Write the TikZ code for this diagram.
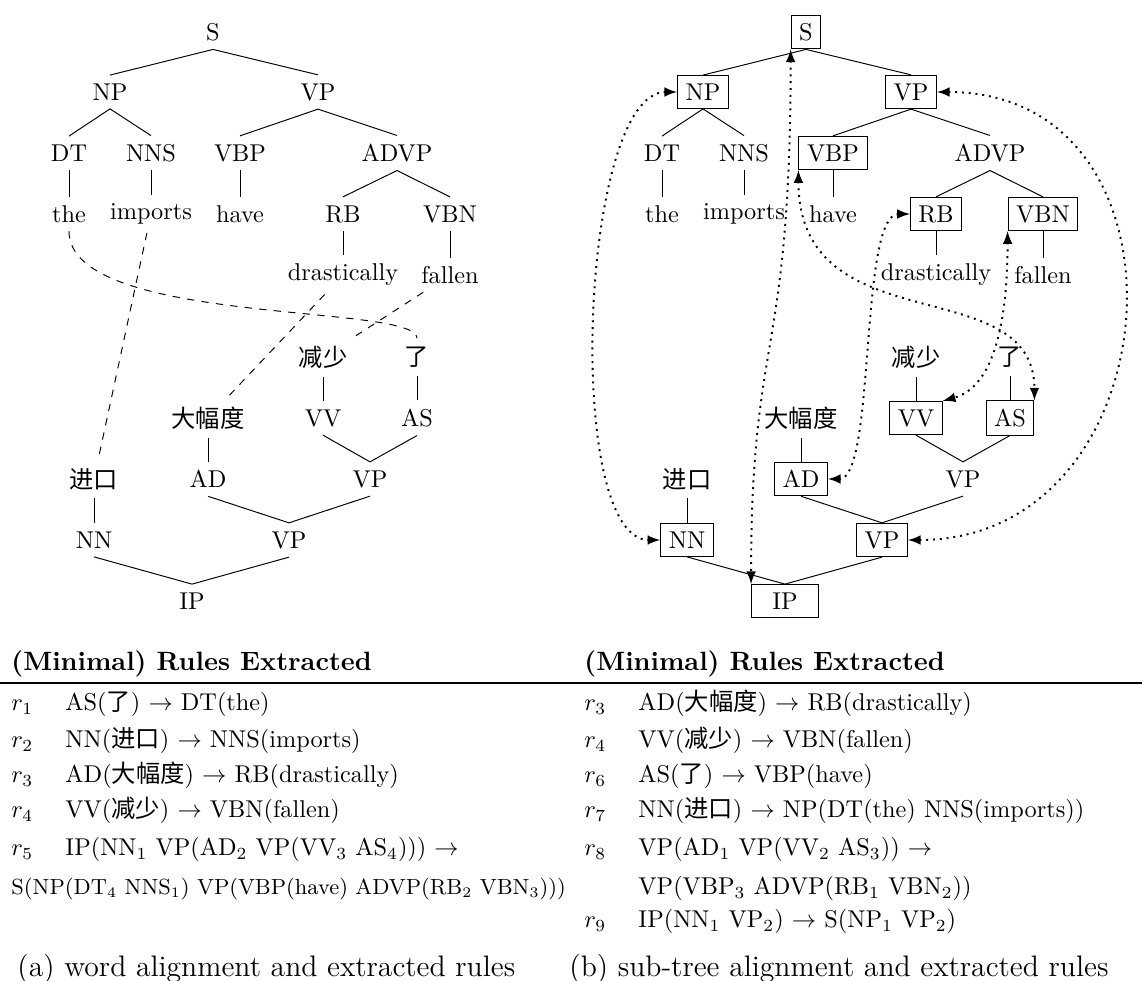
\documentclass[tikz,border=0pt]{standalone}
\usepackage{amsmath}
\usepackage{fontspec}
\newfontfamily\cjk{Noto Sans CJK SC}
\newcommand{\zh}[1]{{\cjk #1}}
\usetikzlibrary{arrows}
\tikzset{tagbox/.style={draw},
  wordlink/.style={dashed},
  treelink/.style={thick,dotted,latex-latex},
  rt/.style={anchor=base west,inner sep=0pt}}

\begin{document}
\begin{tikzpicture}[x=0.4115pt,y=0.4115pt]
	\useasboundingbox (0,0) rectangle (1142,-981);

	% (a) word alignment
	\node (sL) at (213,-32) {S};
	\node (npL) at (110,-92) {NP};
	\node (vpL) at (318,-92) {VP};
	\node (dtL) at (69,-153) {DT};
	\node (nnsL) at (151,-153) {NNS};
	\node (vbpL) at (240,-153) {VBP};
	\node (advpL) at (397,-153) {ADVP};
	\node (theL) at (69,-214) {the};
	\node (importsL) at (151,-214) {imports};
	\node (haveL) at (240,-214) {have};
	\node (rbL) at (343,-214) {RB};
	\node (vbnL) at (450,-214) {VBN};
	\node (drasticallyL) at (343,-275) {drastically};
	\node (fallenL) at (450,-275) {fallen};
	\node (jianshaoL) at (323,-357) {\zh{减少}};
	\node (leL) at (417,-357) {\zh{了}};
	\node (dafuduL) at (208,-418) {\zh{大幅度}};
	\node (vvL) at (323,-418) {VV};
	\node (asL) at (417,-418) {AS};
	\node (jinkouL) at (94,-479) {\zh{进口}};
	\node (adL) at (208,-479) {AD};
	\node (vpcL) at (370,-479) {VP};
	\node (nnL) at (94,-540) {NN};
	\node (vpbL) at (289,-540) {VP};
	\node (ipL) at (192,-601) {IP};

	\draw (npL.north) -- (sL.south) -- (vpL.north);
	\draw (dtL.north) -- (npL.south) -- (nnsL.north);
	\draw (vbpL.north) -- (vpL.south) -- (advpL.north);
	\draw (rbL.north) -- (advpL.south) -- (vbnL.north);
	\draw (dtL.south) -- (theL.north);
	\draw (nnsL.south) -- (importsL.north);
	\draw (vbpL.south) -- (haveL.north);
	\draw (rbL.south) -- (drasticallyL.north);
	\draw (vbnL.south) -- (fallenL.north);
	\draw (jianshaoL.south) -- (vvL.north);
	\draw (leL.south) -- (asL.north);
	\draw (dafuduL.south) -- (adL.north);
	\draw (jinkouL.south) -- (nnL.north);
	\draw (vvL.south) -- (vpcL.north) -- (asL.south);
	\draw (adL.south) -- (vpbL.north) -- (vpcL.south);
	\draw (nnL.south) -- (ipL.north) -- (vpbL.south);

	\draw [wordlink] (theL.south) .. controls +(0,-95) and +(0,35) .. (leL.north);
	\draw [wordlink] (importsL) -- (jinkouL);
	\draw [wordlink] (drasticallyL) -- (dafuduL);
	\draw [wordlink] (fallenL) -- (jianshaoL);

	% (b) sub-tree alignment
	\node [tagbox] (sR) at (806,-32) {S};
	\node [tagbox] (npR) at (703,-92) {NP};
	\node [tagbox] (vpR) at (911,-92) {VP};
	\node (dtR) at (662,-153) {DT};
	\node (nnsR) at (744,-153) {NNS};
	\node [tagbox] (vbpR) at (833,-153) {VBP};
	\node (advpR) at (990,-153) {ADVP};
	\node (theR) at (662,-214) {the};
	\node (importsR) at (744,-214) {imports};
	\node (haveR) at (833,-214) {have};
	\node [tagbox] (rbR) at (936,-214) {RB};
	\node [tagbox] (vbnR) at (1043,-214) {VBN};
	\node (drasticallyR) at (936,-275) {drastically};
	\node (fallenR) at (1043,-275) {fallen};
	\node (jianshaoR) at (916,-357) {\zh{减少}};
	\node (leR) at (1010,-357) {\zh{了}};
	\node (dafuduR) at (801,-418) {\zh{大幅度}};
	\node [tagbox] (vvR) at (916,-418) {VV};
	\node [tagbox] (asR) at (1010,-418) {AS};
	\node (jinkouR) at (687,-479) {\zh{进口}};
	\node [tagbox] (adR) at (801,-479) {AD};
	\node (vpcR) at (963,-479) {VP};
	\node [tagbox] (nnR) at (687,-540) {NN};
	\node [tagbox] (vpbR) at (882,-540) {VP};
	\node [tagbox,minimum width=27.5pt] (ipR) at (785,-601) {IP};

	\draw (npR.north) -- (sR.south) -- (vpR.north);
	\draw (dtR.north) -- (npR.south) -- (nnsR.north);
	\draw (vbpR.north) -- (vpR.south) -- (advpR.north);
	\draw (rbR.north) -- (advpR.south) -- (vbnR.north);
	\draw (dtR.south) -- (theR.north);
	\draw (nnsR.south) -- (importsR.north);
	\draw (vbpR.south) -- (haveR.north);
	\draw (rbR.south) -- (drasticallyR.north);
	\draw (vbnR.south) -- (fallenR.north);
	\draw (jianshaoR.south) -- (vvR.north);
	\draw (leR.south) -- (asR.north);
	\draw (dafuduR.south) -- (adR.north);
	\draw (jinkouR.south) -- (nnR.north);
	\draw (vvR.south) -- (vpcR.north) -- (asR.south);
	\draw (adR.south) -- (vpbR.north) -- (vpcR.south);
	\draw (nnR.south) -- (ipR.north) -- (vpbR.south);

	\draw [treelink] (npR.west) .. controls +(-97,0) and +(-97,0) .. (nnR.west);
	\draw [treelink] (sR.south west) .. controls +(0,-313) and +(0,254) .. (ipR.north west);
	\draw [treelink] (vbpR.south west) .. controls +(0,-176) and +(0,132) .. (asR.north east);
	\draw [treelink] (rbR.west) .. controls +(-51,0) and +(48,0) .. (adR.east);
	\draw [treelink] (vbnR.south west) .. controls +(0,-100) and +(48,13) .. (vvR.north east);
	\draw [treelink] (vpR.east) .. controls +(268,0) and +(268,0) .. (vpbR.east);

	% rules
	\node [rt] (headL) at (11,-671) {\fontsize{10.9}{13}\selectfont\bfseries (Minimal) Rules Extracted};
	\node [rt] (headR) at (584,-671) {\fontsize{10.9}{13}\selectfont\bfseries (Minimal) Rules Extracted};
	\draw [line width=0.5pt] (0,-683) -- (1142,-683);

	\node [rt] (r1L) at (11,-711) {$r_1$};
	\node [rt] (e1L) at (65,-711) {AS(\zh{了}) $\rightarrow$ DT(the)};
	\node [rt] (r2L) at (11,-748) {$r_2$};
	\node [rt] (e2L) at (65,-748) {NN(\zh{进口}) $\rightarrow$ NNS(imports)};
	\node [rt] (r3L) at (11,-783) {$r_3$};
	\node [rt] (e3L) at (65,-783) {AD(\zh{大幅度}) $\rightarrow$ RB(drastically)};
	\node [rt] (r4L) at (11,-818) {$r_4$};
	\node [rt] (e4L) at (65,-818) {VV(\zh{减少}) $\rightarrow$ VBN(fallen)};
	\node [rt] (r5L) at (11,-856) {$r_5$};
	\node [rt] (e5L) at (65,-856) {IP(NN$_1$ VP(AD$_2$ VP(VV$_3$ AS$_4$))) $\rightarrow$};
	\node [rt] (f5L) at (11,-895) {\fontsize{9}{11}\selectfont S(NP(DT$_4$ NNS$_1$) VP(VBP(have) ADVP(RB$_2$ VBN$_3$)))};

	\node [rt] (r3R) at (584,-711) {$r_3$};
	\node [rt] (e3R) at (638,-711) {AD(\zh{大幅度}) $\rightarrow$ RB(drastically)};
	\node [rt] (r4R) at (584,-748) {$r_4$};
	\node [rt] (e4R) at (638,-748) {VV(\zh{减少}) $\rightarrow$ VBN(fallen)};
	\node [rt] (r6R) at (584,-783) {$r_6$};
	\node [rt] (e6R) at (638,-783) {AS(\zh{了}) $\rightarrow$ VBP(have)};
	\node [rt] (r7R) at (584,-818) {$r_7$};
	\node [rt] (e7R) at (638,-818) {NN(\zh{进口}) $\rightarrow$ NP(DT(the) NNS(imports))};
	\node [rt] (r8R) at (584,-856) {$r_8$};
	\node [rt] (e8R) at (638,-856) {VP(AD$_1$ VP(VV$_2$ AS$_3$)) $\rightarrow$};
	\node [rt] (f8R) at (638,-895) {VP(VBP$_3$ ADVP(RB$_1$ VBN$_2$))};
	\node [rt] (r9R) at (584,-928) {$r_9$};
	\node [rt] (e9R) at (638,-928) {IP(NN$_1$ VP$_2$) $\rightarrow$ S(NP$_1$ VP$_2$)};

	\node [rt] (capL) at (17,-976) {\fontsize{12.2}{14}\selectfont (a) word alignment and extracted rules};
	\node [rt] (capR) at (569,-976) {\fontsize{12.2}{14}\selectfont (b) sub-tree alignment and extracted rules};
\end{tikzpicture}
\end{document}
